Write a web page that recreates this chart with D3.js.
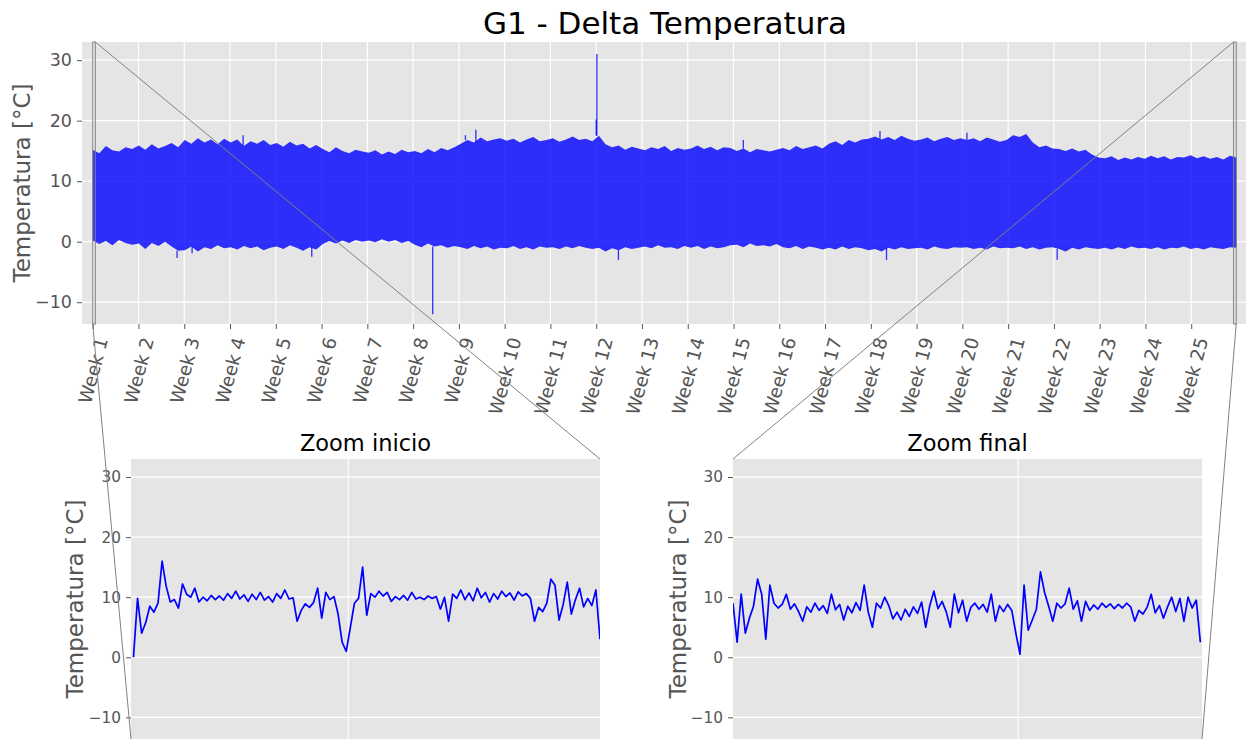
<!DOCTYPE html>
<html>
<head>
<meta charset="utf-8">
<script src="https://cdn.jsdelivr.net/npm/d3@7"></script>
<style>
  body { margin: 0; background: #fff; }
  text { font-family: "DejaVu Sans", sans-serif; }
</style>
</head>
<body>
<svg id="chart" width="1246" height="742"></svg>
<script>
// ---- data ----
const weekLabels = [
  "Week 1", "Week 2", "Week 3", "Week 4", "Week 5", "Week 6", "Week 7",
  "Week 8", "Week 9", "Week 10", "Week 11", "Week 12", "Week 13", "Week 14",
  "Week 15", "Week 16", "Week 17", "Week 18", "Week 19", "Week 20", "Week 21",
  "Week 22", "Week 23", "Week 24", "Week 25",
];
const yTicks = [-10, 0, 10, 20, 30];

// daily envelope of the full series (max / min per day), 25 weeks
const dailyHigh = [
  15.2, 14.6, 15.8, 15.1, 14.9, 15.6, 15.3,
  15.9, 15.2, 16.1, 15.4, 15.8, 16.3, 15.6,
  16.8, 16.2, 17.1, 16.4, 16.9, 16.1, 17.0,
  16.4, 16.9, 15.8, 16.6, 16.2, 16.8, 16.0,
  16.3, 15.7, 16.5, 15.9, 16.2, 15.4, 16.0,
  15.3, 14.8, 15.6, 15.0, 14.6, 15.2, 14.9,
  14.7, 15.1, 14.4, 14.9, 14.5, 15.2, 14.8,
  15.0, 14.6, 15.3, 14.8, 15.5, 15.1, 15.6,
  16.2, 16.8, 16.4, 17.2, 16.6, 16.9, 17.1,
  16.7, 17.0, 16.4, 16.9, 17.3, 16.6, 16.8,
  17.1, 16.5, 16.9, 17.4, 16.8, 17.0, 16.6,
  17.5, 16.1, 15.6, 15.9, 15.2, 15.7, 15.4,
  15.1, 15.6, 15.3, 15.8, 15.0, 15.5, 15.2,
  15.4, 15.9, 15.3, 15.7, 15.1, 15.6, 15.5,
  15.0, 15.4, 14.8, 15.3, 15.1, 14.9, 15.2,
  15.5, 15.1, 15.8, 15.3, 15.6, 15.9, 15.4,
  16.2, 16.6, 16.0, 16.8, 16.4, 16.9, 17.0,
  17.4, 16.9, 17.3, 16.8, 17.5, 17.0, 16.7,
  16.9, 17.2, 16.6, 17.0, 17.3, 16.8, 17.1,
  16.8, 17.1, 16.6, 17.2, 16.9, 16.5, 16.8,
  17.6, 17.3, 17.8, 16.4, 15.6, 15.9, 15.4,
  15.3, 15.0, 15.4, 14.9, 15.2, 14.4, 13.9,
  13.8, 14.1, 13.5, 13.9, 13.6, 14.0, 13.7,
  14.2, 13.8, 14.1, 13.6, 14.0, 13.9, 14.3,
  13.8, 14.1, 13.7, 14.0, 13.6, 14.2, 13.9,
];
const dailyLow = [
  0.2, -0.4, 0.1, -0.6, 0.3, -0.2, -0.5,
  -0.3, -1.2, -0.2, -0.7, 0.0, -0.8, -1.5,
  -1.4, -0.8, -1.6, -0.9, -1.2, -0.6, -1.1,
  -0.9, -1.3, -0.7, -1.1, -0.8, -1.4, -1.0,
  -0.8, -1.2, -0.6, -1.0, -1.5, -0.9, -1.3,
  -0.4, 0.1, -0.3, 0.2, -0.2, 0.3, 0.0,
  0.2, -0.1, 0.4, 0.0, 0.3, -0.2, 0.1,
  -0.5, -0.9, -0.3, -0.8, -0.6, -1.0, -0.7,
  -0.9, -1.2, -0.7, -1.1, -0.8, -1.3, -1.0,
  -1.1, -0.7, -1.2, -0.9, -1.3, -0.8, -1.0,
  -0.9, -1.2, -0.8, -1.1, -0.7, -1.0, -1.2,
  -1.0, -1.6, -1.1, -1.4, -0.9, -1.2, -1.0,
  -0.8, -1.1, -0.6, -1.0, -0.9, -1.2, -0.7,
  -1.0, -0.7, -1.2, -0.8, -1.1, -0.9, -0.6,
  -0.5, -0.9, -0.3, -0.7, -0.6, -0.8, -0.4,
  -0.9, -1.1, -0.7, -1.2, -0.8, -1.0, -1.3,
  -1.0, -1.3, -0.8, -1.2, -0.9, -1.1, -1.4,
  -1.2, -1.6, -1.0, -1.3, -0.9, -1.2, -1.1,
  -1.0, -1.3, -0.8, -1.1, -1.2, -0.9, -1.0,
  -0.9, -1.2, -1.0, -1.3, -0.8, -1.1, -1.0,
  -1.1, -0.8, -1.2, -0.9, -1.3, -1.0, -0.9,
  -1.2, -1.6, -1.0, -1.3, -0.9, -1.1, -1.2,
  -1.0, -1.3, -0.9, -1.2, -0.8, -1.1, -1.0,
  -1.2, -0.9, -1.3, -1.0, -1.1, -0.8, -1.2,
  -1.0, -1.3, -0.9, -1.1, -1.2, -0.9, -1.0,
];
// isolated peaks sticking out of the band: [day, value]
const spikes = [
  [12.9, -2.7], [15.2, -1.9], [23.0, 17.6], [33.5, -2.5], [52.0, -12.0],
  [57.0, 17.6], [58.6, 18.5], [77.0, 20.2], [77.1, 31.0], [80.4, -3.0],
  [99.5, 16.8], [120.4, 18.3], [121.4, -3.0], [133.7, 18.0], [147.5, -3.0],
];
const dataEndHour = 4198.5;

// zoom windows, one sample every 5 minutes
const sampleMinutes = 5;
const zoomStartTemp = [
  0.0, 9.8, 4.0, 5.8, 8.5, 7.5, 9.0, 16.0, 11.8, 9.2,
  9.6, 8.2, 12.2, 10.5, 10.0, 11.5, 9.2, 10.0, 9.4, 10.3,
  9.6, 10.2, 9.5, 10.6, 9.8, 11.0, 9.7, 10.4, 9.3, 10.5,
  9.6, 10.8, 9.5, 10.1, 9.2, 10.6, 9.8, 11.2, 9.7, 9.9,
  6.0, 7.8, 8.9, 8.3, 9.1, 11.5, 6.5, 10.8, 9.6, 10.1,
  7.2, 2.5, 1.0, 5.0, 9.0, 9.8, 15.0, 7.0, 10.6, 10.0,
  11.0, 10.2, 10.8, 9.3, 10.1, 9.6, 10.3, 9.5, 10.8, 9.7,
  10.0, 9.6, 10.2, 9.8, 10.1, 8.0, 10.0, 6.0, 10.5, 9.8,
  11.2, 9.6, 10.7, 9.4, 11.5, 9.9, 10.8, 9.2, 10.6, 9.7,
  11.0, 10.1, 10.7, 9.5, 10.9, 10.2, 10.6, 9.8, 6.0, 8.3,
  7.6, 9.0, 13.0, 12.0, 6.2, 8.8, 12.5, 7.2, 9.6, 11.5,
  8.4, 9.8, 8.6, 11.2, 3.0,
];
const zoomFinalTemp = [
  9.0, 2.5, 10.5, 4.0, 6.5, 8.5, 13.0, 10.5, 3.0, 12.0,
  9.0, 8.2, 8.8, 10.5, 8.0, 8.9, 7.6, 6.0, 8.4, 7.5,
  9.0, 7.8, 8.6, 7.3, 10.5, 7.9, 8.8, 6.2, 8.5, 7.4,
  9.1, 7.8, 12.0, 7.5, 5.0, 9.0, 8.2, 10.0, 8.6, 6.4,
  7.5, 6.2, 8.0, 6.8, 8.4, 7.3, 9.2, 5.0, 8.6, 11.0,
  8.1, 9.3, 7.6, 5.0, 10.5, 7.4, 9.5, 6.0, 8.3, 9.0,
  8.0, 8.8, 7.5, 10.5, 6.0, 8.6, 7.6, 8.8, 7.8, 4.0,
  0.5, 12.0, 4.5, 6.2, 8.0, 14.2, 10.8, 8.5, 6.0, 9.0,
  8.2, 8.9, 11.5, 8.0, 9.4, 6.0, 9.3, 7.8, 8.7, 8.0,
  9.0, 8.3, 8.9, 8.1, 8.8, 8.2, 9.0, 8.4, 6.0, 7.8,
  7.2, 8.3, 10.5, 7.4, 8.6, 6.5, 8.4, 10.0, 7.6, 9.8,
  6.0, 10.0, 8.2, 9.5, 2.5,
];
// window limits in minutes from the window start, hour where each window starts
const zoomStartDomain = [-3, 570];
const zoomFinalDomain = [0, 572];
const zoomStartHour = 0;
const zoomFinalHour = 4187.6;
// the one x grid line each zoom shows (minutes)
const zoomStartGrid = [262.5];
const zoomFinalGrid = [347.6];

// ---- layout ----
const svg = d3.select("#chart");
const bg = "#E5E5E5";
const tickColor = "#555555";
const main = { left: 82, right: 1248, top: 42, bottom: 324 };
const insets = [
  { title: "Zoom inicio", left: 131, right: 600, top: 459, bottom: 739,
    data: zoomStartTemp, domain: zoomStartDomain, grid: zoomStartGrid,
    hour: zoomStartHour, labelX: 75 },
  { title: "Zoom final", left: 733, right: 1202, top: 459, bottom: 739,
    data: zoomFinalTemp, domain: zoomFinalDomain, grid: zoomFinalGrid,
    hour: zoomFinalHour, labelX: 678 },
];

// main scales (time in hours since the first sample)
const weekHours = 168;
const xMain = d3.scaleLinear().domain([-39.3, 4240.4]).range([main.left, main.right]);
const yMain = d3.scaleLinear().domain([-13.6, 33]).range([main.bottom, main.top]);

svg.append("text")
  .attr("x", (main.left + main.right) / 2)
  .attr("y", 34)
  .attr("text-anchor", "middle")
  .attr("font-size", 31)
  .attr("fill", "#000")
  .text("G1 - Delta Temperatura");

svg.append("rect")
  .attr("x", main.left).attr("y", main.top)
  .attr("width", main.right - main.left).attr("height", main.bottom - main.top)
  .attr("fill", bg);

svg.append("clipPath").attr("id", "clip-main")
  .append("rect")
  .attr("x", main.left).attr("y", main.top)
  .attr("width", main.right - main.left).attr("height", main.bottom - main.top);

// grid
const gMain = svg.append("g");
gMain.selectAll(".gy").data(yTicks).enter().append("line")
  .attr("x1", main.left).attr("x2", main.right)
  .attr("y1", (d) => yMain(d)).attr("y2", (d) => yMain(d))
  .attr("stroke", "#fff").attr("stroke-width", 1.2);
gMain.selectAll(".gx").data(weekLabels).enter().append("line")
  .attr("x1", (d, i) => xMain(i * weekHours)).attr("x2", (d, i) => xMain(i * weekHours))
  .attr("y1", main.top).attr("y2", main.bottom)
  .attr("stroke", "#fff").attr("stroke-width", 1.2);

// data band
const stepHours = dataEndHour / (dailyHigh.length - 1);
const band = dailyHigh.map((h, i) => ({ t: i * stepHours, hi: h, lo: dailyLow[i] }));
const dataG = svg.append("g").attr("clip-path", "url(#clip-main)");
dataG.append("path")
  .datum(band)
  .attr("d", d3.area().x((d) => xMain(d.t)).y0((d) => yMain(d.lo)).y1((d) => yMain(d.hi)))
  .attr("fill", "#0000ff")
  .attr("fill-opacity", 0.8);
// spikes start at the band edge so they do not darken the band
dataG.selectAll(".spike").data(spikes).enter().append("line")
  .attr("x1", (d) => xMain(d[0] * 24)).attr("x2", (d) => xMain(d[0] * 24))
  .attr("y1", (d) => {
    const b = band[Math.min(band.length - 1, Math.round((d[0] * 24) / stepHours))];
    return yMain(d[1] > 7 ? b.hi : b.lo);
  })
  .attr("y2", (d) => yMain(d[1]))
  .attr("stroke", "#0000ff").attr("stroke-opacity", 0.8).attr("stroke-width", 1.3);

// axes
function styleAxis(g, size) {
  g.select(".domain").remove();
  g.selectAll(".tick line").attr("stroke", tickColor);
  g.selectAll(".tick text").attr("fill", tickColor).attr("font-size", size)
    .attr("font-family", "DejaVu Sans");
}
const yAxisMain = svg.append("g")
  .attr("transform", `translate(${main.left},0)`)
  .call(d3.axisLeft(yMain).tickValues(yTicks).tickSize(5).tickPadding(5));
styleAxis(yAxisMain, 17.5);

const weekFont = 18.3;
const weekScale = d3.scalePoint().domain(weekLabels)
  .range([xMain(0), xMain((weekLabels.length - 1) * weekHours)]);
const xAxisMain = svg.append("g")
  .attr("transform", `translate(0,${main.bottom})`)
  .call(d3.axisBottom(weekScale).tickSize(5));
styleAxis(xAxisMain, weekFont);
// rotated 75 degrees, rotated box centred on the tick with its top under the axis
const ang = (75 * Math.PI) / 180;
xAxisMain.selectAll(".tick text").each(function () {
  const t = d3.select(this);
  const len = this.getComputedTextLength();
  const h = weekFont * 1.164;
  const boxH = len * Math.sin(ang) + h * Math.cos(ang);
  t.attr("y", 0).attr("dy", "0.35em").attr("text-anchor", "middle")
    .attr("transform", `translate(0,${11 + boxH / 2}) rotate(-75)`);
});

svg.append("text")
  .attr("transform", `translate(22,${(main.top + main.bottom) / 2}) rotate(-90)`)
  .attr("text-anchor", "middle")
  .attr("dy", "0.35em")
  .attr("font-size", 23)
  .attr("fill", tickColor)
  .text("Temperatura [°C]");

// ---- zoom insets ----
insets.forEach((ins, k) => {
  const x = d3.scaleLinear().domain(ins.domain).range([ins.left, ins.right]);
  const y = d3.scaleLinear().domain([-13.6, 33]).range([ins.bottom, ins.top]);
  const g = svg.append("g");
  g.append("rect")
    .attr("x", ins.left).attr("y", ins.top)
    .attr("width", ins.right - ins.left).attr("height", ins.bottom - ins.top)
    .attr("fill", bg);
  g.selectAll(".gy").data(yTicks).enter().append("line")
    .attr("x1", ins.left).attr("x2", ins.right)
    .attr("y1", (d) => y(d)).attr("y2", (d) => y(d))
    .attr("stroke", "#fff").attr("stroke-width", 1.2);
  g.selectAll(".gx").data(ins.grid).enter().append("line")
    .attr("x1", (d) => x(d)).attr("x2", (d) => x(d))
    .attr("y1", ins.top).attr("y2", ins.bottom)
    .attr("stroke", "#fff").attr("stroke-width", 1.2);

  svg.append("clipPath").attr("id", "clip-ins" + k)
    .append("rect")
    .attr("x", ins.left).attr("y", ins.top)
    .attr("width", ins.right - ins.left).attr("height", ins.bottom - ins.top);
  g.append("path")
    .datum(ins.data)
    .attr("clip-path", `url(#clip-ins${k})`)
    .attr("d", d3.line().x((d, i) => x(i * sampleMinutes)).y((d) => y(d)))
    .attr("fill", "none")
    .attr("stroke", "#0000ff")
    .attr("stroke-width", 1.7)
    .attr("stroke-linejoin", "round");

  const ya = g.append("g")
    .attr("transform", `translate(${ins.left},0)`)
    .call(d3.axisLeft(y).tickValues(yTicks).tickSize(5).tickPadding(5));
  styleAxis(ya, 15.3);

  g.append("text")
    .attr("x", (ins.left + ins.right) / 2).attr("y", 451)
    .attr("text-anchor", "middle")
    .attr("font-size", 22.5).attr("fill", "#000")
    .text(ins.title);
  g.append("text")
    .attr("transform", `translate(${ins.labelX},${(ins.top + ins.bottom) / 2}) rotate(-90)`)
    .attr("text-anchor", "middle").attr("dy", "0.35em")
    .attr("font-size", 23).attr("fill", tickColor)
    .text("Temperatura [°C]");

  // window marked on the main plot and the two connectors
  const h0 = ins.hour + ins.domain[0] / 60;
  const h1 = ins.hour + ins.domain[1] / 60;
  const rx0 = xMain(h0), rx1 = xMain(h1);
  svg.append("rect")
    .attr("x", rx0).attr("y", main.top)
    .attr("width", rx1 - rx0).attr("height", main.bottom - main.top)
    .attr("fill", "none").attr("stroke", "#808080").attr("stroke-width", 1);
  const links = k === 0
    ? [[rx1, main.top, ins.right, ins.top], [rx0, main.bottom, ins.left, ins.bottom]]
    : [[rx0, main.top, ins.left, ins.top], [rx1, main.bottom, ins.right, ins.bottom]];
  svg.selectAll(".link" + k).data(links).enter().append("line")
    .attr("x1", (d) => d[0]).attr("y1", (d) => d[1])
    .attr("x2", (d) => d[2]).attr("y2", (d) => d[3])
    .attr("stroke", "#808080").attr("stroke-width", 1);
});
</script>
</body>
</html>
